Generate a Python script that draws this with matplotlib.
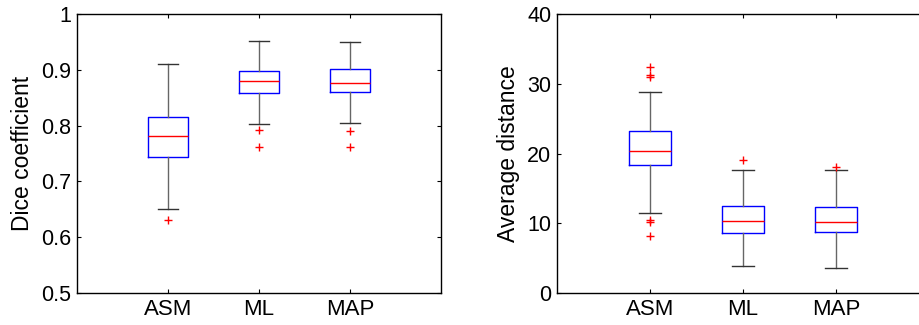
import matplotlib
matplotlib.use("Agg")
from matplotlib import pyplot as plt

plt.rcParams["font.family"] = ["Liberation Sans", "DejaVu Sans"]
plt.rcParams["font.size"] = 15

groups = ["ASM", "ML", "MAP"]

# Dice coefficient: box stats
dice_q1 = [0.744, 0.859, 0.860]
dice_med = [0.781, 0.880, 0.877]
dice_q3 = [0.815, 0.898, 0.901]
dice_lo = [0.651, 0.803, 0.805]
dice_hi = [0.910, 0.952, 0.950]
dice_out = [[0.630], [0.793, 0.762], [0.791, 0.761]]

# Average distance
dist_q1 = [18.3, 8.65, 8.75]
dist_med = [20.35, 10.37, 10.13]
dist_q3 = [23.2, 12.47, 12.38]
dist_lo = [11.45, 3.82, 3.58]
dist_hi = [28.8, 17.6, 17.6]
dist_out = [[32.4, 31.3, 31.0, 10.5, 10.2, 8.2], [19.05], [18.1]]


def make_stats(q1, med, q3, lo, hi, out):
    stats = []
    for i in range(len(groups)):
        stats.append(dict(label=groups[i], q1=q1[i], med=med[i], q3=q3[i],
                          whislo=lo[i], whishi=hi[i], fliers=out[i]))
    return stats


def draw(ax, stats):
    ax.bxp(stats, positions=[1, 2, 3], widths=0.45, capwidths=0.23,
           boxprops=dict(color="#0000ff", linewidth=1.0),
           medianprops=dict(color="#ff0000", linewidth=1.0),
           whiskerprops=dict(color="#666666", linewidth=1.0),
           capprops=dict(color="#333333", linewidth=1.0),
           flierprops=dict(marker="+", markeredgecolor="#ff0000",
                           markersize=6, linestyle="none", markeredgewidth=1.0))
    ax.set_xlim(0, 4)
    ax.set_xticks([1, 2, 3])
    ax.set_xticklabels(groups)
    ax.tick_params(direction="in", top=True, right=True, length=3, width=0.8,
                   pad=4)
    ax.tick_params(axis="x", labelsize=16)
    ax.tick_params(axis="y", labelsize=15.5)
    for s in ax.spines.values():
        s.set_linewidth(1.0)


fig = plt.figure(figsize=(9.19, 3.25), dpi=100)

ax1 = fig.add_axes([77 / 919, 32 / 325, 364 / 919, 279 / 325])
draw(ax1, make_stats(dice_q1, dice_med, dice_q3, dice_lo, dice_hi, dice_out))
ax1.set_ylim(0.5, 1.0)
ax1.set_yticks([0.5, 0.6, 0.7, 0.8, 0.9, 1.0])
ax1.set_yticklabels(["0.5", "0.6", "0.7", "0.8", "0.9", "1"])
ax1.set_ylabel("Dice coefficient", fontsize=16.5, labelpad=5)

# right panel runs past the figure edge, so its right side is cut off
ax2 = fig.add_axes([557 / 919, 32 / 325, 372 / 919, 279 / 325])
draw(ax2, make_stats(dist_q1, dist_med, dist_q3, dist_lo, dist_hi, dist_out))
ax2.set_ylim(0, 40)
ax2.set_yticks([0, 10, 20, 30, 40])
ax2.set_ylabel("Average distance", fontsize=16.5, labelpad=5)
ax2.spines["right"].set_visible(False)

fig.savefig("out.png", dpi=100)
